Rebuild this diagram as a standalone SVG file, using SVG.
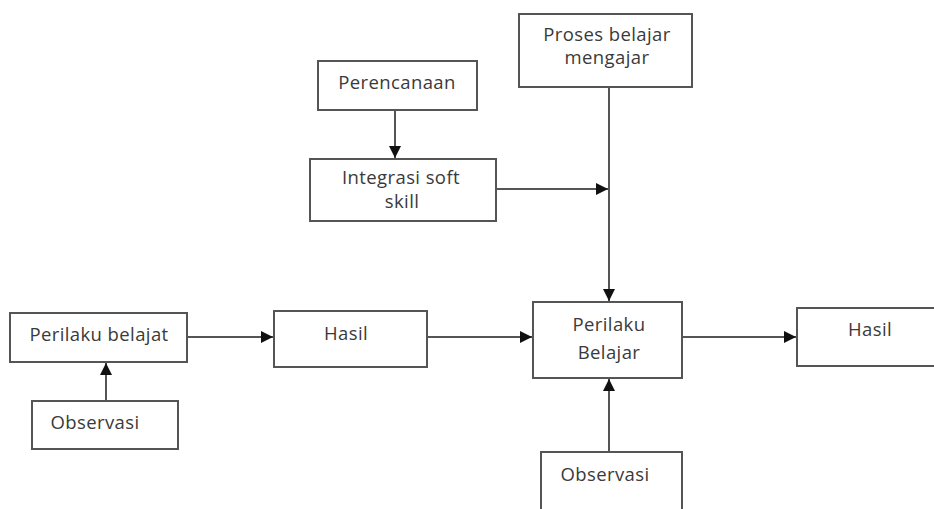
<svg xmlns="http://www.w3.org/2000/svg" width="934" height="509" viewBox="0 0 934 509">
<defs>
<style>
.box{fill:#fff;stroke:#555;stroke-width:2}
.t{font-family:"Open Sans","Liberation Sans",sans-serif;font-size:18.5px;letter-spacing:0.4px;fill:#3a3a3a;text-anchor:middle}
.c{stroke:#555;stroke-width:2;fill:none}
</style>
<marker id="ah" viewBox="0 0 10 10" refX="10" refY="5" markerWidth="12" markerHeight="12" markerUnits="userSpaceOnUse" orient="auto">
<path d="M0,0 L10,5 L0,10 Z" fill="#111"/>
</marker>
</defs>
<rect width="934" height="509" fill="#fff"/>
<g id="connectors">
<line class="c" x1="609" y1="87" x2="609" y2="301" marker-end="url(#ah)"/>
<line class="c" x1="395" y1="110" x2="395" y2="158" marker-end="url(#ah)"/>
<line class="c" x1="496" y1="189" x2="608" y2="189" marker-end="url(#ah)"/>
<line class="c" x1="187" y1="337" x2="273" y2="337" marker-end="url(#ah)"/>
<line class="c" x1="106" y1="401" x2="106" y2="363" marker-end="url(#ah)"/>
<line class="c" x1="427" y1="337" x2="532" y2="337" marker-end="url(#ah)"/>
<line class="c" x1="682" y1="337" x2="796" y2="337" marker-end="url(#ah)"/>
<line class="c" x1="609" y1="452" x2="609" y2="379" marker-end="url(#ah)"/>
</g>
<g id="proses">
<rect class="box" x="519" y="14" width="173" height="73"/>
<text class="t" x="607" y="41">Proses belajar</text>
<text class="t" x="607" y="64">mengajar</text>
</g>
<g id="perencanaan">
<rect class="box" x="318" y="61" width="159" height="49"/>
<text class="t" x="397" y="89">Perencanaan</text>
</g>
<g id="integrasi">
<rect class="box" x="310" y="159" width="186" height="62"/>
<text class="t" x="401" y="184">Integrasi soft</text>
<text class="t" x="402" y="208">skill</text>
</g>
<g id="perilaku-belajat">
<rect class="box" x="10" y="313" width="177" height="49"/>
<text class="t" x="99" y="341">Perilaku belajat</text>
</g>
<g id="observasi-1">
<rect class="box" x="32" y="401" width="146" height="48"/>
<text class="t" x="95" y="429">Observasi</text>
</g>
<g id="hasil-1">
<rect class="box" x="274" y="311" width="153" height="56"/>
<text class="t" x="346" y="340">Hasil</text>
</g>
<g id="perilaku-belajar">
<rect class="box" x="533" y="302" width="149" height="76"/>
<text class="t" x="609" y="331">Perilaku</text>
<text class="t" x="609" y="359">Belajar</text>
</g>
<g id="hasil-2">
<rect class="box" x="797" y="308" width="150" height="58"/>
<text class="t" x="870" y="336">Hasil</text>
</g>
<g id="observasi-2">
<rect class="box" x="541" y="452" width="141" height="70"/>
<text class="t" x="605" y="481">Observasi</text>
</g>
</svg>
